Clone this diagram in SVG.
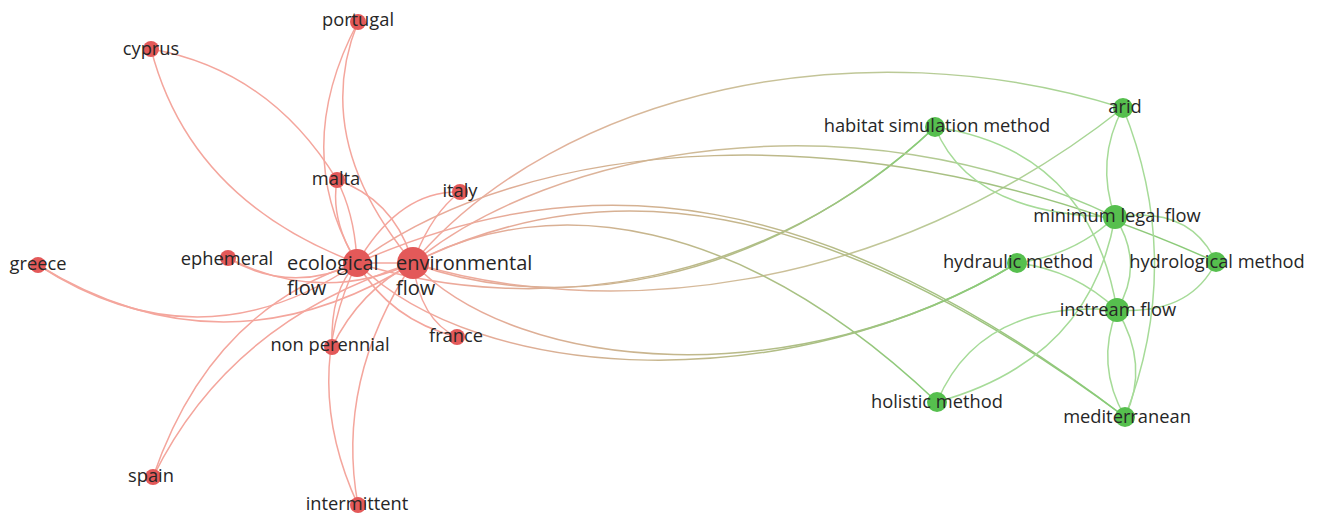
<svg xmlns="http://www.w3.org/2000/svg" width="1326" height="517" viewBox="0 0 1326 517">
<style>
.e{fill:none;stroke-width:1.5;stroke-linecap:round}
.r{stroke:#f4a69d}
.g{stroke:#a6db98}
.nr{fill:#e35959}
.ng{fill:#56bf4e}
text{font-family:"Open Sans","DejaVu Sans",sans-serif;font-size:18.3px;fill:#262626;text-anchor:middle}
.big{font-size:20px;text-anchor:start}
</style>
<defs>
<linearGradient id="gA" gradientUnits="userSpaceOnUse" x1="413" y1="263" x2="1123" y2="108"><stop offset="0" stop-color="#f3a79d"/><stop offset="1" stop-color="#a3d894"/></linearGradient>
<linearGradient id="gH" gradientUnits="userSpaceOnUse" x1="413" y1="263" x2="935" y2="127"><stop offset="0" stop-color="#f3a79d"/><stop offset="1" stop-color="#86cc77"/></linearGradient>
<linearGradient id="gM" gradientUnits="userSpaceOnUse" x1="413" y1="263" x2="1115" y2="217"><stop offset="0" stop-color="#f3a79d"/><stop offset="1" stop-color="#9dd68f"/></linearGradient>
<linearGradient id="gY" gradientUnits="userSpaceOnUse" x1="357" y1="263" x2="1216" y2="262"><stop offset="0" stop-color="#f3a79d"/><stop offset="1" stop-color="#86cc77"/></linearGradient>
<linearGradient id="gD" gradientUnits="userSpaceOnUse" x1="413" y1="263" x2="1125" y2="417"><stop offset="0" stop-color="#f3a79d"/><stop offset="1" stop-color="#86cc77"/></linearGradient>
<linearGradient id="gO" gradientUnits="userSpaceOnUse" x1="413" y1="263" x2="937" y2="402"><stop offset="0" stop-color="#f3a79d"/><stop offset="1" stop-color="#86cc77"/></linearGradient>
<linearGradient id="gU" gradientUnits="userSpaceOnUse" x1="413" y1="263" x2="1017" y2="263"><stop offset="0" stop-color="#f3a79d"/><stop offset="1" stop-color="#86cc77"/></linearGradient>
</defs>
<g id="connectors">
<path class="e r" d="M151,49 Q190,200 357,263"/>
<path class="e r" d="M151,49 Q270,70 337,180"/>
<path class="e r" d="M358,22 Q290,150 357,263"/>
<path class="e r" d="M358,22 Q310,140 413,263"/>
<path class="e r" d="M337,180 Q330,220 357,263"/>
<path class="e r" d="M337,180 Q355,215 357,263"/>
<path class="e r" d="M337,180 Q395,200 413,263"/>
<path class="e r" d="M460,192 Q400,190 357,263"/>
<path class="e r" d="M460,192 Q430,215 413,263"/>
<path class="e r" d="M38,265 Q200,370 357,263"/>
<path class="e r" d="M38,265 Q225,380 413,263"/>
<path class="e r" d="M228,258 Q290,295 357,263"/>
<path class="e r" d="M228,258 Q320,305 413,263"/>
<path class="e r" d="M332,347 Q330,290 357,263"/>
<path class="e r" d="M332,347 Q360,290 413,263"/>
<path class="e r" d="M457,337 Q390,320 357,263"/>
<path class="e r" d="M457,337 Q420,320 413,263"/>
<path class="e r" d="M153,477 Q210,310 357,263"/>
<path class="e r" d="M153,477 Q230,320 413,263"/>
<path class="e r" d="M358,505 Q300,380 357,263"/>
<path class="e r" d="M358,505 Q335,380 413,263"/>
<path class="e r" d="M357,263 L413,263"/>
<path class="e" stroke="url(#gA)" d="M413,263 C560,90 860,25 1123,108"/>
<path class="e" stroke="url(#gA)" d="M413,263 C600,320 880,300 1123,108"/>
<path class="e" stroke="url(#gH)" stroke-width="2" d="M413,263 C550,315 760,290 935,127"/>
<path class="e" stroke="url(#gH)" d="M357,263 C540,320 770,285 935,127"/>
<path class="e" stroke="url(#gM)" d="M413,263 C550,150 850,90 1115,217"/>
<path class="e" stroke="url(#gY)" stroke-width="2" d="M357,263 C520,140 860,100 1216,262"/>
<path class="e" stroke="url(#gD)" stroke-width="2" d="M413,263 C600,170 820,190 1125,417"/>
<path class="e" stroke="url(#gD)" d="M357,263 C590,160 820,185 1125,417"/>
<path class="e" stroke="url(#gO)" stroke-width="2" d="M413,263 C550,190 740,215 937,402"/>
<path class="e" stroke="url(#gU)" d="M413,263 C520,375 800,395 1017,263"/>
<path class="e" stroke="url(#gU)" d="M357,263 C480,385 790,400 1017,263"/>
<path class="e g" d="M1123,108 Q1095,160 1115,217"/>
<path class="e g" d="M1123,108 Q1185,262 1125,417"/>
<path class="e g" d="M935,127 Q970,215 1115,217"/>
<path class="e g" d="M935,127 Q1090,150 1117,310"/>
<path class="e g" d="M1017,263 Q1075,255 1115,217"/>
<path class="e g" d="M1017,263 Q1075,270 1117,310"/>
<path class="e g" d="M1115,217 Q1090,360 937,402"/>
<path class="e g" d="M1117,310 Q980,300 937,402"/>
<path class="e g" d="M1115,217 Q1145,264 1117,310"/>
<path class="e g" d="M1115,217 Q1190,205 1216,262"/>
<path class="e g" d="M1117,310 Q1190,315 1216,262"/>
<path class="e g" d="M1117,310 Q1095,365 1125,417"/>
<path class="e g" d="M1117,310 Q1150,365 1125,417"/>
</g>
<g id="node-portugal"><circle class="nr" cx="358" cy="22" r="8"/><text x="358" y="26">portugal</text></g>
<g id="node-cyprus"><circle class="nr" cx="151" cy="49" r="8"/><text x="151" y="55">cyprus</text></g>
<g id="node-malta"><circle class="nr" cx="337" cy="180" r="8"/><text x="336" y="185">malta</text></g>
<g id="node-italy"><circle class="nr" cx="460" cy="192" r="8"/><text x="460" y="197">italy</text></g>
<g id="node-greece"><circle class="nr" cx="38" cy="265" r="8"/><text x="38" y="270">greece</text></g>
<g id="node-ephemeral"><circle class="nr" cx="228" cy="258" r="8"/><text x="227" y="265">ephemeral</text></g>
<g id="node-ecological-flow"><circle class="nr" cx="357" cy="263" r="14"/><text class="big" x="287" y="270">ecological</text><text class="big" x="287" y="295">flow</text></g>
<g id="node-environmental-flow"><circle class="nr" cx="413" cy="263" r="16"/><text class="big" x="396" y="270">environmental</text><text class="big" x="396" y="295">flow</text></g>
<g id="node-france"><circle class="nr" cx="457" cy="337" r="8"/><text x="456" y="342">france</text></g>
<g id="node-non-perennial"><circle class="nr" cx="332" cy="347" r="8"/><text x="330" y="351">non perennial</text></g>
<g id="node-spain"><circle class="nr" cx="153" cy="477" r="8"/><text x="151" y="482">spain</text></g>
<g id="node-intermittent"><circle class="nr" cx="358" cy="505" r="8"/><text x="357" y="510">intermittent</text></g>
<g id="node-habitat-simulation-method"><circle class="ng" cx="935" cy="127" r="10"/><text x="937" y="132">habitat simulation method</text></g>
<g id="node-arid"><circle class="ng" cx="1123" cy="108" r="10"/><text x="1125" y="113">arid</text></g>
<g id="node-minimum-legal-flow"><circle class="ng" cx="1115" cy="217" r="12"/><text x="1117" y="222">minimum legal flow</text></g>
<g id="node-hydraulic-method"><circle class="ng" cx="1017" cy="263" r="10"/><text x="1018" y="268">hydraulic method</text></g>
<g id="node-hydrological-method"><circle class="ng" cx="1216" cy="262" r="10"/><text x="1217" y="268">hydrological method</text></g>
<g id="node-instream-flow"><circle class="ng" cx="1117" cy="310" r="12"/><text x="1118" y="316">instream flow</text></g>
<g id="node-holistic-method"><circle class="ng" cx="937" cy="402" r="10"/><text x="937" y="408">holistic method</text></g>
<g id="node-mediterranean"><circle class="ng" cx="1125" cy="417" r="10"/><text x="1127" y="423">mediterranean</text></g>
</svg>
